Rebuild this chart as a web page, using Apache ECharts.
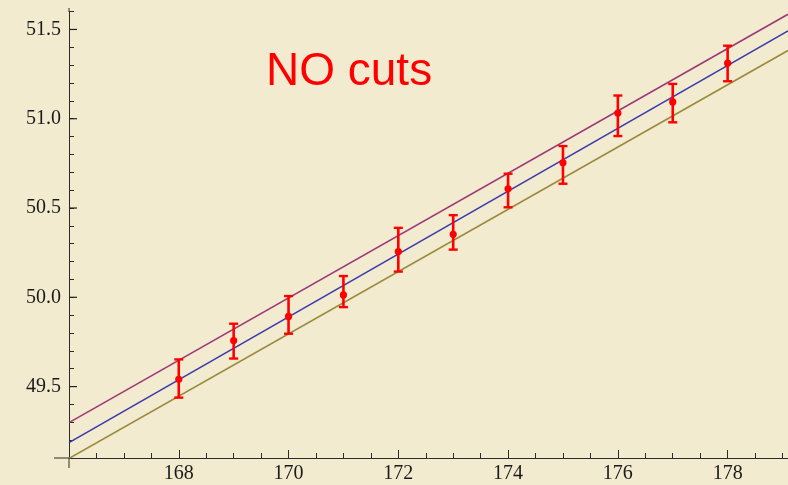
<!DOCTYPE html>
<html>
<head>
<meta charset="utf-8">
<script src="https://cdn.jsdelivr.net/npm/echarts@6/dist/echarts.min.js"></script>
<style>
  html, body { margin: 0; padding: 0; background: #f3ebcf; }
  #chart { width: 788px; height: 485px; }
</style>
</head>
<body>
<div id="chart"></div>
<script>
// measured points with error bars
const massX = [168, 169, 170, 171, 172, 173, 174, 175, 176, 177, 178]
const massY = [49.541, 49.758, 49.893, 50.013, 50.256, 50.353, 50.608, 50.753, 51.032, 51.094, 51.311]
const errLow = [49.438, 49.657, 49.796, 49.945, 50.144, 50.267, 50.504, 50.636, 50.903, 50.980, 51.210]
const errHigh = [49.652, 49.852, 50.007, 50.119, 50.389, 50.460, 50.692, 50.847, 51.130, 51.195, 51.409]

// straight fit lines, end points
const lineX = [166, 179.1]
const upperLine = [49.298, 51.585]
const centralLine = [49.186, 51.492]
const lowerLine = [49.0975, 51.382]

// y tick positions
const yMajorTicks = [49.5, 50.0, 50.5, 51.0, 51.5]
const yMinorTicks = [49.2, 49.3, 49.4, 49.6, 49.7, 49.8, 49.9, 50.1, 50.2, 50.3, 50.4,
  50.6, 50.7, 50.8, 50.9, 51.1, 51.2, 51.3, 51.4, 51.6]

const chart = echarts.init(document.getElementById('chart'))

const axisColor = '#2b2b2b'
const labelFont = { fontFamily: 'Liberation Serif', fontSize: 20, color: '#1a1a1a' }
const xMin = 166
const yMin = 49.1
const yMax = 51.6

function lineSeries(ys, color) {
  return {
    type: 'line',
    data: lineX.map((x, i) => [x, ys[i]]),
    symbol: 'none',
    silent: true,
    lineStyle: { color, width: 1.6 },
    z: 2
  }
}

// short inward tick marks on the y axis
function yTickSeries(values, len) {
  return {
    type: 'custom',
    silent: true,
    clip: false,
    z: 6,
    data: values.map(v => [xMin, v]),
    renderItem: (params, api) => {
      const pt = api.coord([api.value(0), api.value(1)])
      return {
        type: 'rect',
        shape: { x: pt[0], y: pt[1] - 0.6, width: len, height: 1.2 },
        style: { fill: '#222222' }
      }
    }
  }
}

// label only the half-unit ticks
function halfLabel(v) {
  const h = v * 2
  return Math.abs(h - Math.round(h)) < 1e-6 ? v.toFixed(1) : ''
}

const option = {
  backgroundColor: '#f3ebcf',
  animation: false,
  grid: { left: 69, right: 0, top: 11.6, bottom: 27 },
  xAxis: {
    type: 'value',
    min: xMin,
    max: 179.1,
    interval: 2,
    axisLine: { show: true, lineStyle: { color: axisColor, width: 1 } },
    axisTick: { show: true, inside: true, length: 8, lineStyle: { color: axisColor } },
    minorTick: { show: true, splitNumber: 4, length: 5, lineStyle: { color: axisColor } },
    axisLabel: {
      ...labelFont,
      margin: 6,
      showMinLabel: false,
      showMaxLabel: false
    },
    splitLine: { show: false }
  },
  yAxis: {
    type: 'value',
    min: yMin,
    max: yMax,
    interval: 0.1,
    axisLine: { show: true, lineStyle: { color: axisColor, width: 1 } },
    axisTick: { show: true, inside: true, length: 5, lineStyle: { color: axisColor, width: 1 } },
    axisLabel: {
      ...labelFont,
      margin: 8,
      formatter: halfLabel
    },
    splitLine: { show: false }
  },
  graphic: [
    // axis stubs past the plot area, like the original
    { type: 'line', shape: { x1: 54, y1: 458, x2: 69, y2: 458 }, style: { stroke: axisColor, lineWidth: 1 } },
    { type: 'line', shape: { x1: 69, y1: 458, x2: 69, y2: 468 }, style: { stroke: axisColor, lineWidth: 1 } },
    { type: 'line', shape: { x1: 69, y1: 8, x2: 69, y2: 12 }, style: { stroke: axisColor, lineWidth: 1 } },
    {
      type: 'text',
      left: 266,
      top: 49,
      style: { text: 'NO cuts', fill: '#ff0000', font: '46px "Liberation Sans"' }
    }
  ],
  series: [
    yTickSeries(yMajorTicks, 8),
    lineSeries(upperLine, '#9c3a78'),
    lineSeries(centralLine, '#3a3aac'),
    lineSeries(lowerLine, '#9a8a3e'),
    {
      type: 'custom',
      z: 5,
      data: massX.map((x, i) => [x, massY[i], errLow[i], errHigh[i]]),
      renderItem: (params, api) => {
        const x = api.value(0)
        const p = api.coord([x, api.value(1)])
        const lo = api.coord([x, api.value(2)])
        const hi = api.coord([x, api.value(3)])
        const red = '#ff0000'
        const cap = 4.5
        return {
          type: 'group',
          children: [
            { type: 'line', shape: { x1: lo[0], y1: lo[1], x2: hi[0], y2: hi[1] }, style: { stroke: red, lineWidth: 2.6 } },
            { type: 'line', shape: { x1: hi[0] - cap, y1: hi[1], x2: hi[0] + cap, y2: hi[1] }, style: { stroke: red, lineWidth: 2.4 } },
            { type: 'line', shape: { x1: lo[0] - cap, y1: lo[1], x2: lo[0] + cap, y2: lo[1] }, style: { stroke: red, lineWidth: 2.4 } },
            { type: 'circle', shape: { cx: p[0], cy: p[1], r: 3.6 }, style: { fill: red } }
          ]
        }
      }
    }
  ]
}

chart.setOption(option)
</script>
</body>
</html>
